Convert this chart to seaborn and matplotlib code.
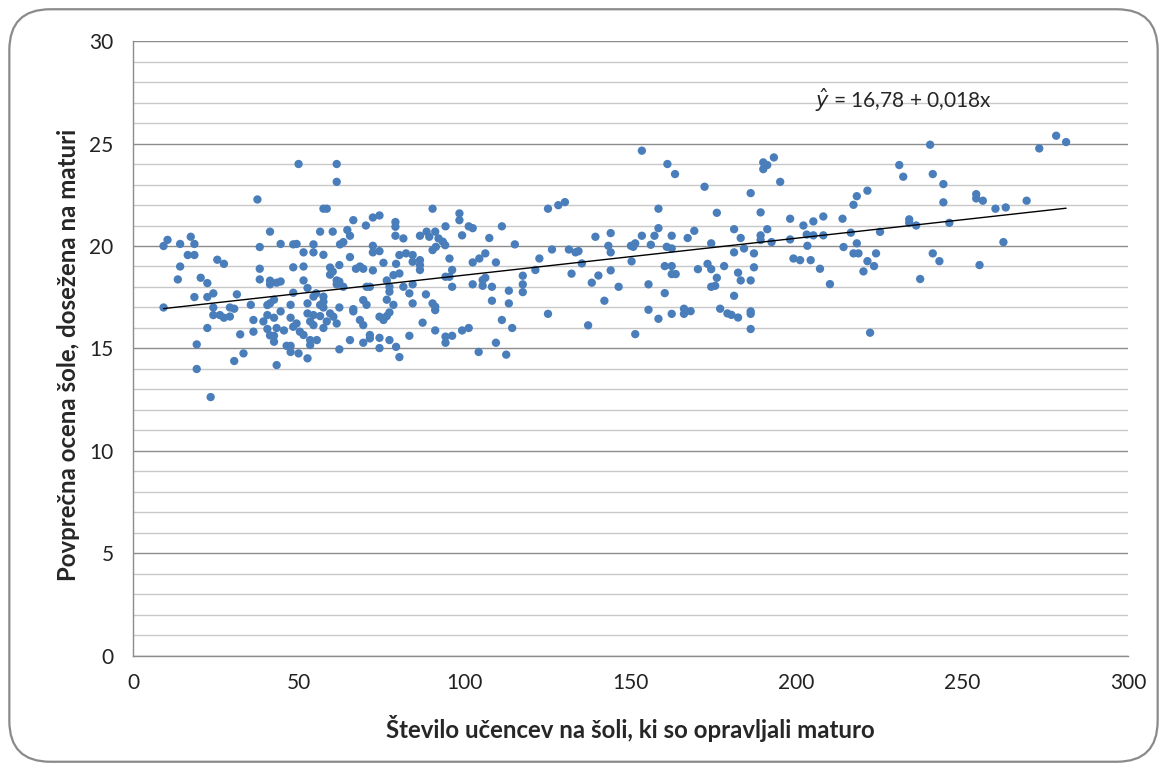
import numpy as np
import pandas as pd
import matplotlib
matplotlib.use("Agg")
import matplotlib.pyplot as plt
from matplotlib.patches import FancyBboxPatch
from matplotlib.ticker import MultipleLocator
import seaborn as sns

# --------------------------------------------------
# Data
# --------------------------------------------------

# number of students at the school who took the matura
n_students = [
    49.9, 37.5, 41.3, 10.4, 9.2, 14.2, 17.4, 18.5, 38.2, 44.5, 48.3, 49.3, 16.5, 18.5, 14.2, 25.4,
    27.4, 38.2, 48.3, 13.5, 20.4, 22.4, 38.2, 41.3, 41.3, 43.3, 44.5, 18.5, 22.4, 24.2, 31.3, 9.2,
    24.2, 29.2, 30.5, 35.5, 24.2, 26.2, 27.4, 29.2, 22.4, 36.3, 39.3, 40.5, 42.5, 41.3, 42.5, 40.5,
    44.5, 47.5, 48.3, 47.5, 48.3, 49.3, 36.3, 40.5, 43.3, 45.5, 41.3, 42.5, 42.5, 32.3, 46.3, 47.5,
    47.5, 49.9, 19.2, 33.3, 30.5, 19.2, 43.3, 23.4,
    61.4, 61.4, 57.4, 58.4, 66.4, 72.3, 74.3, 70.2, 79.1, 79.1, 90.3, 56.4, 60.2, 64.6, 65.4, 79.1,
    81.5, 86.5, 88.5, 89.3, 91.1, 92.1, 62.4, 63.4, 54.4, 51.4, 54.4, 57.4, 72.3, 72.3, 74.3, 65.4,
    80.3, 82.3, 84.3, 84.3, 86.5, 86.5, 86.5, 90.3, 91.3, 51.4, 59.4, 59.4, 60.2, 62.2, 67.2, 68.4,
    69.4, 72.3, 75.5, 79.3, 78.5, 80.3, 51.4, 52.6, 61.4, 62.2, 61.4, 63.4, 76.5, 77.3, 77.3, 70.4,
    71.4, 81.5, 84.3, 83.3, 88.3, 55.2, 54.4, 57.4, 57.4, 56.4, 57.4, 52.6, 62.2, 66.4, 66.4, 69.4,
    70.4, 76.5, 77.3, 76.5, 75.5, 74.3, 78.5, 84.3, 90.3, 91.1, 91.1, 87.3, 91.1, 52.6, 54.4, 56.4,
    53.4, 54.4, 58.4, 57.4, 59.4, 60.4, 61.4, 68.4, 69.4, 50.3, 51.4, 53.4, 55.4, 53.4, 52.6, 65.4,
    62.2, 69.4, 71.4, 71.4, 74.3, 74.3, 77.3, 79.3, 80.3, 83.3,
    98.4, 98.4, 94.2, 101.2, 102.4, 111.2, 99.2, 107.4, 115.1, 125.1, 128.2, 130.2, 93.4, 94.1,
    95.4, 96.2, 95.4, 94.2, 96.2, 102.4, 104.4, 106.2, 109.4, 102.4, 105.4, 106.2, 105.4, 108.2,
    113.3, 117.5, 117.5, 117.5, 121.3, 122.5, 126.3, 131.4, 133.4, 134.3, 132.2, 108.2, 113.3,
    94.2, 94.2, 96.2, 99.2, 101.2, 111.2, 114.3, 125.1, 104.2, 109.4, 112.5,
    153.4, 161.1, 163.4, 172.3, 158.4, 176.0, 158.4, 169.2, 167.2, 162.4, 157.2, 153.4, 144.0,
    139.4, 143.3, 144.0, 150.1, 151.4, 150.8, 156.1, 160.9, 162.4, 174.3, 135.3, 138.3, 140.3,
    144.0, 146.4, 142.1, 137.2, 150.3, 155.4, 160.3, 162.4, 162.4, 163.6, 160.3, 155.4, 158.4,
    162.4, 166.1, 166.1, 168.1, 151.4, 170.3, 173.2, 174.3, 176.0, 174.3, 175.5, 177.0,
    193.2, 190.0, 191.2, 190.0, 195.1, 186.2, 189.2, 198.1, 205.1, 208.1, 213.9, 217.2, 218.2,
    202.1, 181.2, 191.2, 189.2, 189.2, 183.2, 192.5, 198.1, 203.1, 205.1, 208.1, 216.4, 181.2,
    184.2, 187.2, 203.3, 214.2, 218.2, 217.2, 218.7, 199.1, 201.1, 204.3, 207.1, 210.1, 178.2,
    182.4, 183.2, 186.2, 187.2, 181.2, 179.2, 180.4, 182.4, 186.2, 186.2, 186.2,
    240.3, 231.0, 232.2, 241.1, 244.3, 244.3, 221.4, 254.2, 254.2, 256.2, 260.0, 234.0, 234.0,
    236.1, 246.1, 225.2, 224.0, 221.4, 223.4, 220.2, 241.1, 243.1, 237.3, 255.2, 222.2,
    273.2, 278.3, 281.3, 269.4, 263.1, 262.4,
]

# average matura score of the school
avg_score = [
    24.0, 22.27, 20.7, 20.3, 20.0, 20.1, 20.45, 20.1, 19.95, 20.1, 20.08, 20.1, 19.56, 19.56, 19.0, 19.33,
    19.13, 18.89, 18.96, 18.37, 18.45, 18.19, 18.37, 18.31, 18.13, 18.21, 18.27, 17.51, 17.51, 17.69, 17.64, 17.0,
    17.0, 17.0, 16.94, 17.13, 16.63, 16.63, 16.5, 16.56, 16.0, 16.39, 16.32, 16.63, 16.5, 17.2, 17.38, 17.12,
    16.81, 17.13, 17.72, 16.5, 16.06, 16.22, 15.82, 15.95, 16.0, 15.88, 15.64, 15.62, 15.33, 15.69, 15.13, 15.13,
    14.83, 14.76, 15.2, 14.76, 14.39, 14.0, 14.19, 12.63,
    24.0, 23.13, 21.82, 21.82, 21.26, 21.39, 21.49, 21.0, 21.17, 20.94, 21.82, 20.7, 20.7, 20.78, 20.5, 20.5,
    20.37, 20.5, 20.7, 20.45, 20.7, 20.37, 20.08, 20.19, 20.08, 19.69, 19.69, 19.57, 20.01, 19.69, 19.75, 19.46,
    19.56, 19.64, 19.56, 19.23, 19.31, 19.07, 18.83, 19.8, 19.96, 19.0, 18.95, 18.6, 18.75, 19.07, 18.89, 19.0,
    18.89, 18.81, 19.18, 19.13, 18.58, 18.66, 18.32, 17.95, 18.32, 18.26, 18.13, 18.01, 18.32, 18.01, 17.77, 18.01,
    18.01, 18.01, 18.13, 17.69, 17.64, 17.69, 17.53, 17.53, 17.28, 17.12, 17.0, 17.2, 17.0, 16.92, 16.81, 17.36,
    17.13, 17.38, 16.76, 16.58, 16.39, 16.55, 17.13, 17.2, 17.2, 17.04, 16.87, 16.26, 15.88, 16.71, 16.63, 16.58,
    16.32, 16.14, 16.32, 16.0, 16.71, 16.55, 16.22, 16.39, 16.14, 15.82, 15.66, 15.41, 15.41, 15.17, 14.52, 15.41,
    14.96, 15.28, 15.66, 15.49, 15.52, 15.02, 15.41, 15.08, 14.58, 15.62,
    21.59, 21.26, 20.96, 20.96, 20.87, 20.96, 20.52, 20.39, 20.08, 21.82, 21.99, 22.14, 20.21, 20.04,
    19.39, 18.83, 18.5, 18.5, 18.01, 19.2, 19.39, 19.64, 19.2, 18.13, 18.34, 18.45, 18.06, 18.01,
    17.82, 18.55, 18.13, 17.75, 18.83, 19.39, 19.83, 19.83, 19.69, 19.75, 18.65, 17.33, 17.2,
    15.58, 15.28, 15.62, 15.88, 16.0, 16.39, 16.0, 16.69, 14.83, 15.28, 14.7,
    24.65, 24.0, 23.51, 22.89, 21.82, 21.62, 20.87, 20.74, 20.39, 20.5, 20.5, 20.5, 20.63,
    20.45, 20.01, 19.69, 20.01, 20.13, 19.96, 20.06, 19.96, 19.88, 20.13, 19.15, 18.21, 18.56,
    18.81, 18.01, 17.33, 16.13, 19.25, 18.13, 19.02, 19.02, 18.63, 18.63, 17.7, 16.89, 16.45,
    16.69, 16.94, 16.69, 16.82, 15.7, 18.87, 19.13, 18.87, 18.45, 18.01, 18.06, 16.94,
    24.32, 24.08, 23.95, 23.75, 23.13, 22.58, 21.64, 21.33, 21.2, 21.44, 21.33, 22.01, 22.43,
    21.0, 20.82, 20.82, 20.52, 20.29, 20.39, 20.19, 20.32, 20.56, 20.52, 20.52, 20.65, 19.69,
    19.88, 19.64, 20.01, 19.95, 20.13, 19.64, 19.64, 19.39, 19.31, 19.31, 18.89, 18.14, 19.02,
    18.7, 18.32, 18.32, 18.96, 17.57, 16.71, 16.64, 16.51, 16.81, 16.69, 15.95,
    24.94, 23.95, 23.38, 23.51, 23.02, 22.13, 22.7, 22.53, 22.32, 22.21, 21.82, 21.3, 21.13,
    21.0, 21.13, 20.69, 19.64, 19.26, 19.02, 18.76, 19.64, 19.26, 18.39, 19.07, 15.77,
    24.76, 25.38, 25.07, 22.21, 21.88, 20.19,
]

# regression line shown on the chart
intercept = 16.78
slope = 0.018
equation_label = r"$\hat{y}$ = 16,78 + 0,018x"

x_ticks = [0, 50, 100, 150, 200, 250, 300]
y_ticks = [0, 5, 10, 15, 20, 25, 30]
x_label = "Število učencev na šoli, ki so opravljali maturo"
y_label = "Povprečna ocena šole, dosežena na maturi"

df = pd.DataFrame({"n": n_students, "score": avg_score})

# --------------------------------------------------
# Plot
# --------------------------------------------------

sns.set_style("white")
plt.rcParams["font.family"] = ["Lato", "DejaVu Sans"]

fig = plt.figure(figsize=(11.67, 7.71), dpi=100)
ax = fig.add_axes([0.114, 0.1492, 0.8527, 0.7976])

# rounded frame around the whole chart
frame = FancyBboxPatch((0.008, 0.012), 0.984, 0.976,
                       boxstyle="round,pad=0,rounding_size=0.035",
                       transform=fig.transFigure, facecolor="none",
                       edgecolor="#8a8a8a", linewidth=1.6,
                       mutation_aspect=1167 / 771)
fig.patches.append(frame)

sns.scatterplot(data=df, x="n", y="score", ax=ax, color="#4a7ebb",
                s=36, edgecolor="none", zorder=3)

# trend line over the data range
xs = np.array([df["n"].min(), df["n"].max()])
ax.plot(xs, intercept + slope * xs, color="black", lw=1.0, zorder=4)

ax.text(205.5, 27.1, equation_label, fontsize=15, va="center", ha="left")

ax.set_xlim(0, 300)
ax.set_ylim(0, 30)
ax.set_xticks(x_ticks)
ax.set_yticks(y_ticks)
ax.yaxis.set_minor_locator(MultipleLocator(1))

ax.grid(axis="y", which="major", color="#8c8c8c", lw=1.0)
ax.grid(axis="y", which="minor", color="#c8c8c8", lw=1.0)
ax.grid(axis="x", visible=False)
ax.set_axisbelow(True)

for side in ["top", "right"]:
    ax.spines[side].set_visible(False)
for side in ["left", "bottom"]:
    ax.spines[side].set_color("#8c8c8c")
    ax.spines[side].set_linewidth(1.0)

ax.tick_params(axis="both", which="major", length=6, color="#8c8c8c",
               labelsize=15, labelcolor="#222222", direction="out")
ax.tick_params(axis="y", which="minor", length=0)
ax.tick_params(axis="x", pad=6)
ax.tick_params(axis="y", pad=8)

ax.set_xlabel(x_label, fontsize=17.3, fontweight="bold", labelpad=16)
ax.set_ylabel(y_label, fontsize=17.3, fontweight="bold", labelpad=7, y=0.49)

fig.savefig("out.png", dpi=100)
